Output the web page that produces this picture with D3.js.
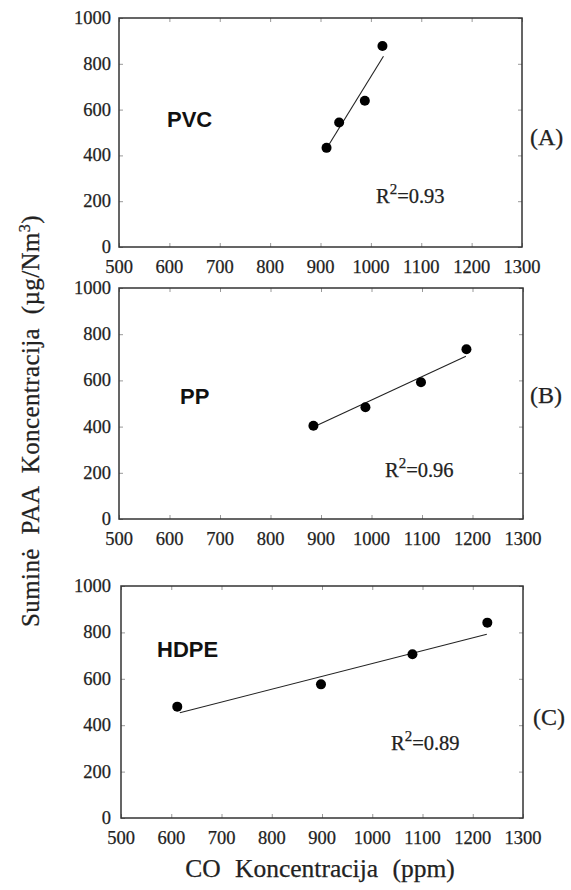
<!DOCTYPE html>
<html><head><meta charset="utf-8">
<script src="https://cdn.jsdelivr.net/npm/d3@7"></script>
<style>
body{margin:0;background:#fff;}
svg{display:block;}
.serif{font-family:'Liberation Serif','Times New Roman',serif;stroke:#222;stroke-width:0.25px;}
.sans{font-family:'Liberation Sans',Arial,sans-serif;}
</style></head>
<body>
<script>
// ---- data ----
const xTicks = [500, 600, 700, 800, 900, 1000, 1100, 1200, 1300];
const yTicks = [0, 200, 400, 600, 800, 1000];
const panelNames = ["PVC", "PP", "HDPE"];
const panelTags = ["(A)", "(B)", "(C)"];
const r2Values = ["0.93", "0.96", "0.89"];
const pvcX = [912, 937, 988, 1023];
const pvcY = [433, 544, 639, 878];
const ppX = [885, 988, 1098, 1188];
const ppY = [404, 484, 592, 735];
const hdpeX = [612, 898, 1080, 1229];
const hdpeY = [480, 576, 706, 842];
const pvcFit = [[912, 430], [1025, 833]];
const ppFit = [[885, 398], [1187, 705]];
const hdpeFit = [[617, 454], [1228, 792]];
const yTitle = "Suminė PAA Koncentracija (µg/Nm";
const xTitle = "CO Koncentracija (ppm)";

// ---- layout ----
const W = 571, H = 890;
const svg = d3.select("body").append("svg").attr("width", W).attr("height", H);

const panels = [
  {xs: pvcX, ys: pvcY, fit: pvcFit, top: 18, bottom: 247, left: 119, right: 522,
   name: {dx: 48, dy: 109}, r2: {x: 376, dy: 185}, tag: {x: 530, dy: 127}},
  {xs: ppX, ys: ppY, fit: ppFit, top: 288, bottom: 519, left: 119, right: 523,
   name: {dx: 61, dy: 116}, r2: {x: 385, dy: 189}, tag: {x: 530, dy: 115}},
  {xs: hdpeX, ys: hdpeY, fit: hdpeFit, top: 586, bottom: 818, left: 121, right: 523,
   name: {dx: 36, dy: 71}, r2: {x: 391, dy: 164}, tag: {x: 533, dy: 139}}
];

panels.forEach((p, i) => {
  const x = d3.scaleLinear().domain([500, 1300]).range([p.left, p.right]);
  const y = d3.scaleLinear().domain([0, 1000]).range([p.bottom, p.top]);
  const g = svg.append("g");

  // inward ticks on all sides
  const tickStyle = s => s.attr("stroke", "#999").attr("stroke-width", 1);
  const clean = a => { a.select(".domain").remove(); a.selectAll("text").remove(); tickStyle(a.selectAll("line")); };
  g.append("g").attr("transform", `translate(0,${p.bottom})`)
    .call(d3.axisTop(x).tickValues(xTicks).tickSize(4)).call(clean);
  g.append("g").attr("transform", `translate(0,${p.top})`)
    .call(d3.axisBottom(x).tickValues(xTicks).tickSize(4)).call(clean);
  g.append("g").attr("transform", `translate(${p.left},0)`)
    .call(d3.axisRight(y).tickValues(yTicks).tickSize(4)).call(clean);
  g.append("g").attr("transform", `translate(${p.right},0)`)
    .call(d3.axisLeft(y).tickValues(yTicks).tickSize(4)).call(clean);

  // frame
  g.append("rect").attr("x", p.left).attr("y", p.top)
    .attr("width", p.right - p.left).attr("height", p.bottom - p.top)
    .attr("fill", "none").attr("stroke", "#333").attr("stroke-width", 1.5);

  // tick labels
  g.append("g").selectAll("text").data(xTicks).join("text")
    .attr("class", "serif")
    .attr("x", d => x(d)).attr("y", p.bottom + 26)
    .attr("text-anchor", "middle").attr("font-size", 18.5)
    .attr("fill", "#222").text(d => d);
  g.append("g").selectAll("text").data(yTicks).join("text")
    .attr("class", "serif")
    .attr("x", 111).attr("y", d => y(d) + 6)
    .attr("text-anchor", "end").attr("font-size", 18.5)
    .attr("fill", "#222").text(d => d);

  // fit line
  g.append("line")
    .attr("x1", x(p.fit[0][0])).attr("y1", y(p.fit[0][1]))
    .attr("x2", x(p.fit[1][0])).attr("y2", y(p.fit[1][1]))
    .attr("stroke", "#222").attr("stroke-width", 1.1);

  // points
  g.append("g").selectAll("circle").data(p.xs.map((v, k) => [v, p.ys[k]])).join("circle")
    .attr("cx", d => x(d[0])).attr("cy", d => y(d[1])).attr("r", 5).attr("fill", "#000");

  // name
  g.append("text").attr("class", "sans").attr("x", p.left + p.name.dx).attr("y", p.top + p.name.dy)
    .attr("font-weight", "bold").attr("font-size", 22)
    .attr("fill", "#111").text(panelNames[i]);

  // R^2
  const t = g.append("text").attr("class", "serif").attr("x", p.r2.x).attr("y", p.top + p.r2.dy)
    .attr("font-size", 20.5).attr("fill", "#222");
  t.append("tspan").text("R");
  t.append("tspan").attr("font-size", 15).attr("dy", -9).text("2");
  t.append("tspan").attr("dy", 9).text("=" + r2Values[i]);

  // tag
  g.append("text").attr("class", "serif").attr("x", p.tag.x).attr("y", p.top + p.tag.dy)
    .attr("font-size", 24).attr("fill", "#222").text(panelTags[i]);
});

// axis titles
const yt = svg.append("text").attr("class", "serif")
  .attr("transform", "translate(39,421) rotate(-90)")
  .attr("text-anchor", "middle").attr("font-size", 25)
  .attr("word-spacing", 7).attr("letter-spacing", 0.4).attr("fill", "#222");
yt.append("tspan").text(yTitle);
yt.append("tspan").attr("font-size", 16).attr("dy", -9).text("3");
yt.append("tspan").attr("dy", 9).text(")");

svg.append("text").attr("class", "serif").attr("x", 320).attr("y", 877)
  .attr("text-anchor", "middle").attr("font-size", 25.5)
  .attr("word-spacing", 8).attr("fill", "#222").text(xTitle);
</script>
</body></html>
